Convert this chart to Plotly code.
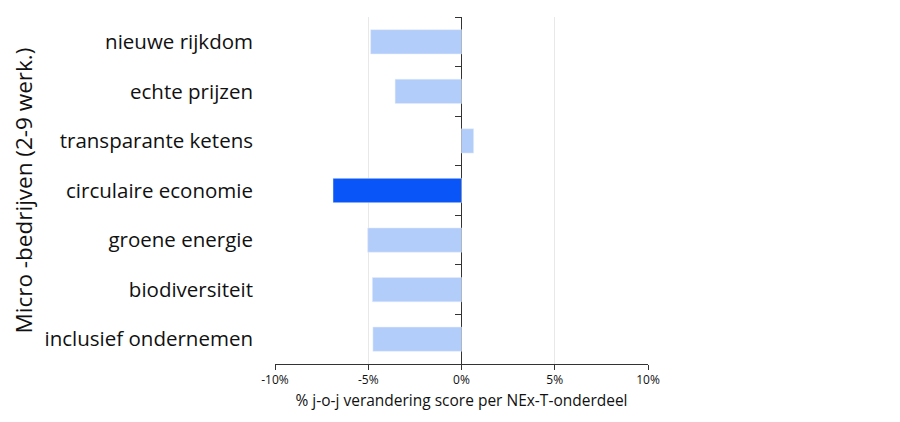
import plotly.graph_objects as go

categories = ["nieuwe rijkdom", "echte prijzen", "transparante ketens", "circulaire economie",
              "groene energie", "biodiversiteit", "inclusief ondernemen"]
values = [-4.87, -3.56, 0.65, -6.89, -5.03, -4.78, -4.75]
highlight = "circulaire economie"
x_tickvals = [-10, -5, 0, 5, 10]
x_ticktext = ["-10%", "-5%", "0%", "5%", "10%"]

LIGHT = "#b3cdfb"
DARK = "#0a55f7"
colors = [DARK if c == highlight else LIGHT for c in categories]

FONT = "Open Sans"
TXT = "#111"

fig = go.Figure()
fig.add_trace(go.Bar(x=values, y=categories, orientation="h", marker=dict(color=colors, line=dict(width=0)),
                     width=0.49, yaxis="y", xaxis="x", showlegend=False, hoverinfo="x+y"))
# same data on a second category axis placed at x=0 that only carries the boundary ticks
fig.add_trace(go.Bar(x=values, y=categories, orientation="h", marker=dict(color="rgba(0,0,0,0)"),
                     width=0.49, yaxis="y2", xaxis="x", showlegend=False, hoverinfo="skip"))

# the page body has an 8px default margin; size the figure so it fits the 900x422 window
fig.update_layout(
    width=884, height=406,
    margin=dict(l=267, r=244, t=9, b=50, autoexpand=False),
    paper_bgcolor="white", plot_bgcolor="white",
    font=dict(family=FONT, color=TXT),
    xaxis=dict(range=[-10, 10], tickvals=x_tickvals, ticktext=x_ticktext, automargin=False,
               showgrid=True, gridcolor="#e8e8e8", gridwidth=1,
               zeroline=True, zerolinecolor="#333", zerolinewidth=1,
               showline=True, linecolor="#333", linewidth=1,
               ticks="outside", ticklen=5, tickcolor="#333",
               tickfont=dict(size=12, family=FONT, color=TXT),
               title=dict(text="% j-o-j verandering score per NEx-T-onderdeel",
                          font=dict(size=15.5, family=FONT, color=TXT), standoff=7),
               fixedrange=True),
    yaxis=dict(categoryorder="array", categoryarray=categories[::-1], autorange=False, range=[-0.5, 6.5],
               automargin=False, showgrid=False, zeroline=False, showline=False, ticks="",
               tickfont=dict(size=20.5, family=FONT, color=TXT), ticklabelstandoff=21,
               title=dict(text="Micro -bedrijven (2-9 werk.)", font=dict(size=22.5, family=FONT, color=TXT),
                          standoff=8)),
    yaxis2=dict(overlaying="y", anchor="free", position=0.5, side="left", visible=True, automargin=False,
                type="category", categoryorder="array", categoryarray=categories[::-1],
                autorange=False, range=[-0.5, 6.5],
                showgrid=False, zeroline=False, showline=False, showticklabels=False,
                ticks="outside", tickson="boundaries", ticklen=7, tickcolor="#333", tickwidth=1.2),
)

fig.write_html("out.html")
